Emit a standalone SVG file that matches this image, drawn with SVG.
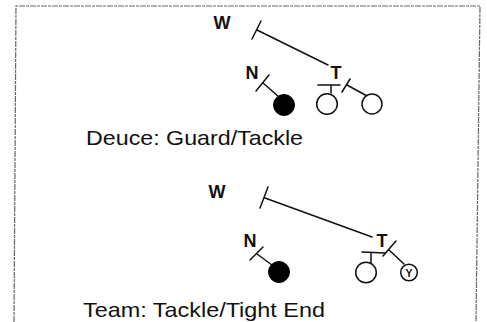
<svg xmlns="http://www.w3.org/2000/svg" width="487" height="322" viewBox="0 0 487 322">
<style>
.lbl{font-family:"Liberation Sans",Arial,sans-serif;font-weight:bold;font-size:18px;fill:#111;text-anchor:middle}
.cap{font-family:"Liberation Sans",Arial,sans-serif;font-size:21px;fill:#111}
.ln{stroke:#111;stroke-width:1.5;fill:none;stroke-linecap:round}
.op{fill:#fff;stroke:#111;stroke-width:1.5}
.fl{fill:#000;stroke:#000;stroke-width:1}
.frame{fill:none;stroke:#666;stroke-width:1.2;stroke-dasharray:6 1 3 1}
</style>
<rect width="487" height="322" fill="#fff"/>
<path class="frame" d="M14,322 L16,6 L480,6 L476,322"/>

<g id="connectors">
  <!-- top W -->
  <path class="ln" d="M252,39 L261,21 M257,30 L328,65"/>
  <!-- top N -->
  <path class="ln" d="M256,91 L269,75 M263,83 L279,97"/>
  <!-- top T bar + stem -->
  <path class="ln" d="M318,85 L340,85 M331,85 L331,93"/>
  <!-- top T slash -->
  <path class="ln" d="M342,92 L350,79 M347,85 L367,96"/>
  <!-- bottom W -->
  <path class="ln" d="M260,208 L268,187 M265,198 L372,237"/>
  <!-- bottom N -->
  <path class="ln" d="M250,260 L263,247 M257,254 L272,265"/>
  <!-- bottom T bar + stem -->
  <path class="ln" d="M362,252 L385,253 M371,253 L371,263"/>
  <!-- bottom T slash -->
  <path class="ln" d="M383,256 L396,241 M389,250 L404,264"/>
</g>

<g id="top-W"><text class="lbl" x="222" y="29">W</text></g>
<g id="top-N"><text class="lbl" x="252" y="79">N</text></g>
<g id="top-T"><text class="lbl" x="336" y="79">T</text></g>
<g id="top-center"><circle class="fl" cx="284" cy="105" r="10.5"/></g>
<g id="top-guard"><circle class="op" cx="327" cy="104" r="10.3"/></g>
<g id="top-tackle"><circle class="op" cx="372" cy="104" r="10"/></g>
<g id="top-caption"><text class="cap" x="86" y="145" textLength="217" lengthAdjust="spacingAndGlyphs">Deuce: Guard/Tackle</text></g>

<g id="bot-W"><text class="lbl" x="217" y="198">W</text></g>
<g id="bot-N"><text class="lbl" x="250" y="247">N</text></g>
<g id="bot-T"><text class="lbl" x="382" y="247">T</text></g>
<g id="bot-center"><circle class="fl" cx="279" cy="272" r="10.5"/></g>
<g id="bot-tackle"><circle class="op" cx="366" cy="272.5" r="10.3"/></g>
<g id="bot-tightend"><circle class="op" cx="409" cy="272.5" r="8.3"/><text x="409" y="276.5" style="font-family:'Liberation Sans',Arial,sans-serif;font-weight:bold;font-size:10.5px;fill:#111;text-anchor:middle">Y</text></g>
<g id="bot-caption"><text class="cap" x="83" y="317" textLength="242" lengthAdjust="spacingAndGlyphs">Team: Tackle/Tight End</text></g>
</svg>
